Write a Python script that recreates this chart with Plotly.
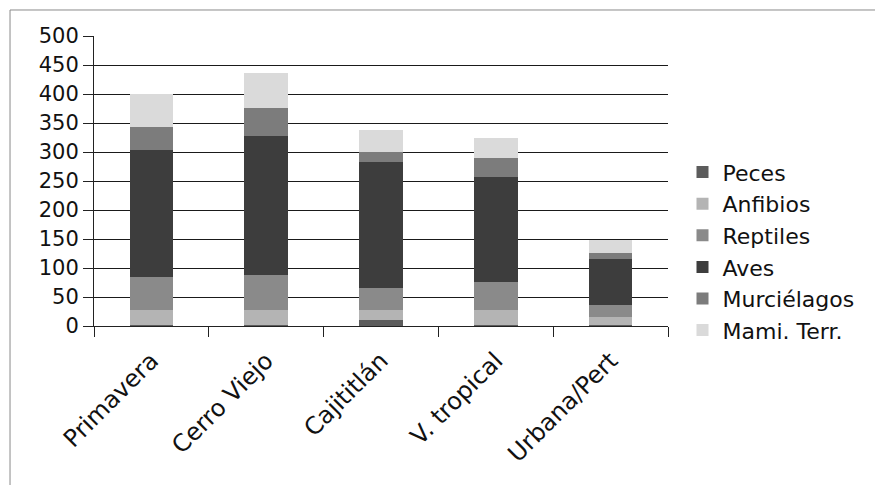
import plotly.graph_objects as go

# Sites (x categories)
sitios = ["Primavera", "Cerro Viejo", "Cajititlán", "V. tropical", "Urbana/Pert"]

# Species counts per group, stacked bottom to top in this order
peces = [2, 2, 10, 2, 2]
anfibios = [25, 26, 18, 26, 14]
reptiles = [58, 60, 37, 48, 20]
aves = [218, 240, 218, 181, 80]
murcielagos = [40, 48, 17, 33, 10]
mami_terr = [57, 60, 38, 34, 22]

y_ticks = [0, 50, 100, 150, 200, 250, 300, 350, 400, 450, 500]

series = [
    ("Peces", peces, "#5c5c5c"),
    ("Anfibios", anfibios, "#b4b4b4"),
    ("Reptiles", reptiles, "#8a8a8a"),
    ("Aves", aves, "#3d3d3d"),
    ("Murciélagos", murcielagos, "#7c7c7c"),
    ("Mami. Terr.", mami_terr, "#dadada"),
]

FONT = "DejaVu Sans"

fig = go.Figure()
for name, vals, color in series:
    fig.add_trace(go.Bar(
        x=sitios, y=vals, name=name,
        marker=dict(color=color, line=dict(width=0)),
    ))

fig.update_layout(
    barmode="stack",
    bargap=0.62,
    width=875, height=485,
    margin=dict(l=94, r=207, t=36, b=159),
    paper_bgcolor="white",
    plot_bgcolor="white",
    font=dict(family=FONT, color="#111111"),
    showlegend=True,
    legend=dict(
        traceorder="normal",
        xref="container", yref="container",
        x=0.780, xanchor="left",
        y=0.688, yanchor="top",
        font=dict(family=FONT, size=22, color="#111111"),
        itemwidth=30,
        bgcolor="rgba(0,0,0,0)",
    ),
    xaxis=dict(
        type="category",
        tickangle=-45,
        tickson="boundaries",
        ticks="outside", ticklen=10, tickcolor="#222222",
        ticklabelstandoff=10,
        showline=True, linecolor="#222222", linewidth=1,
        showgrid=False,
        tickfont=dict(family=FONT, size=24, color="#111111"),
    ),
    yaxis=dict(
        range=[0, 500],
        tickvals=y_ticks,
        ticks="outside", ticklen=10, tickcolor="#222222",
        showline=True, linecolor="#222222", linewidth=1,
        showgrid=True, gridcolor="#1a1a1a", gridwidth=1,
        zeroline=False,
        tickfont=dict(family=FONT, size=21, color="#111111"),
    ),
    shapes=[
        # outer chart frame (top and left edges visible)
        dict(type="rect", xref="paper", yref="paper",
             x0=-0.1463, y0=-3, x1=3, y1=1.0897,
             line=dict(color="#8a8a8a", width=1), layer="below"),
    ],
)

fig.write_html("out.html")
